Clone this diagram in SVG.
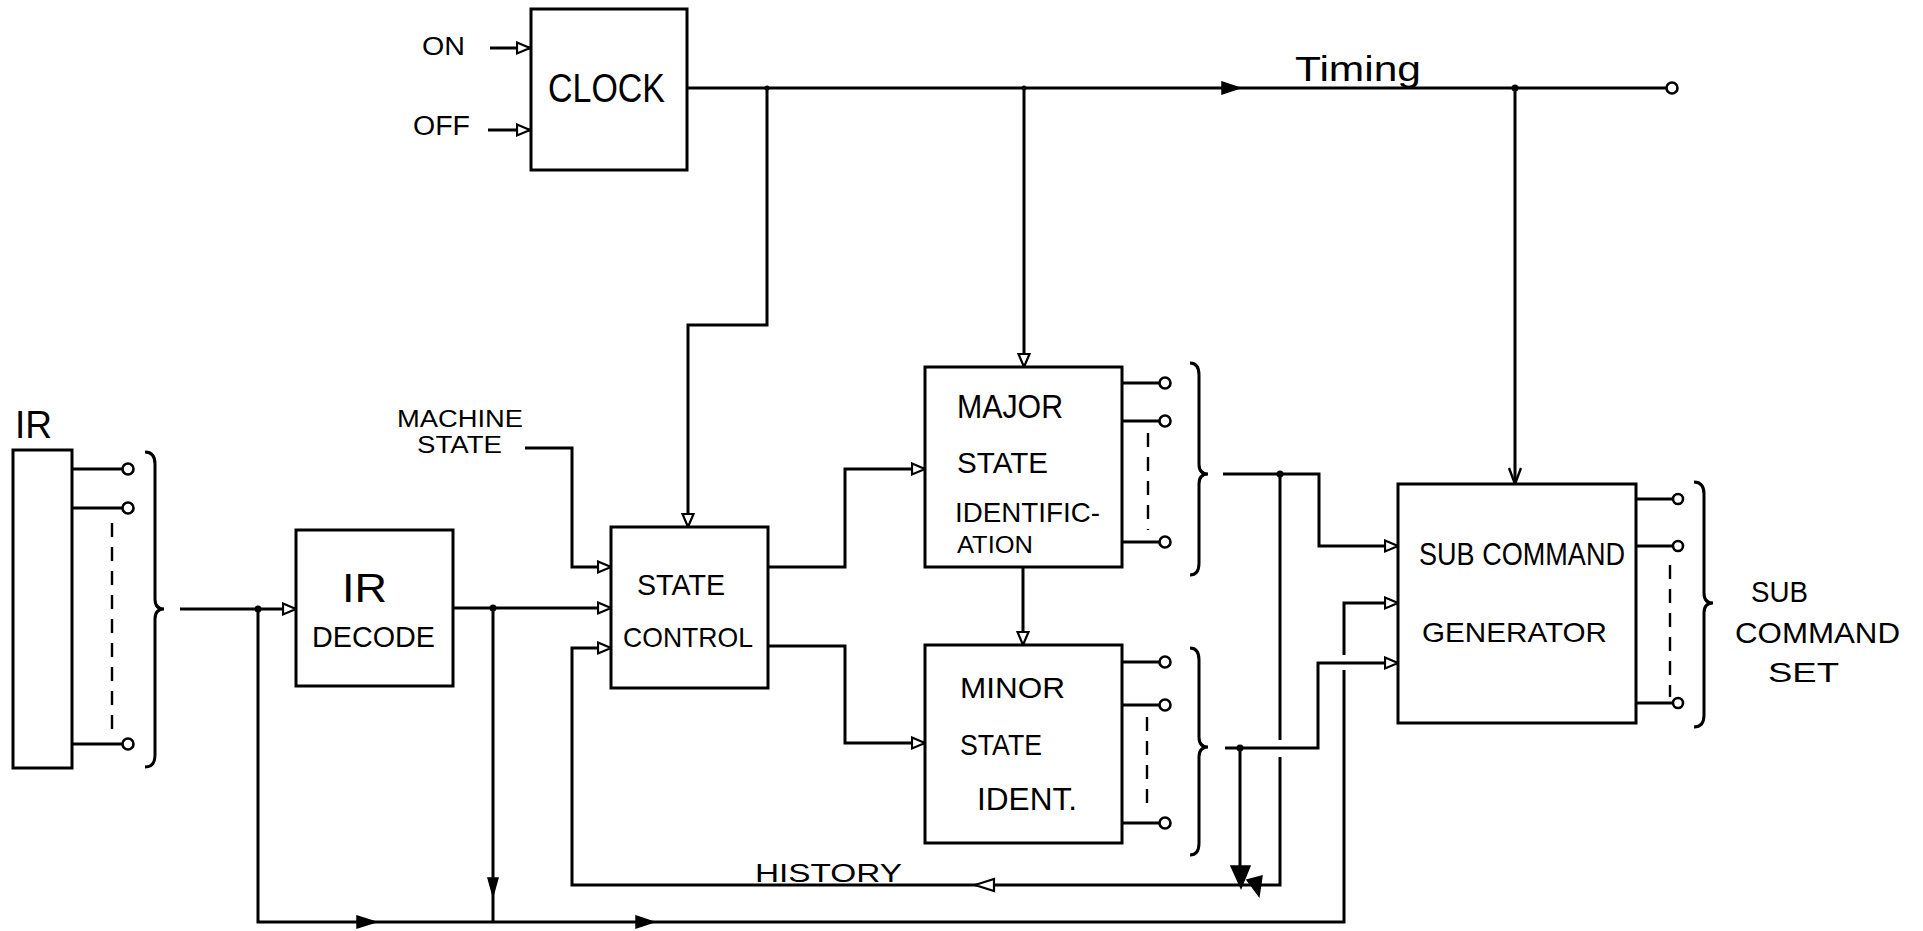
<svg xmlns="http://www.w3.org/2000/svg" width="1923" height="931" viewBox="0 0 1923 931">
<style>
.box{fill:#fff;stroke:#000;stroke-width:3}
.ln{fill:none;stroke:#000;stroke-width:3;stroke-linejoin:miter}
.dash{fill:none;stroke:#000;stroke-width:2.4;stroke-dasharray:14 10}
.term{fill:#fff;stroke:#000;stroke-width:2.6}
.dot{fill:#000}
.fa{fill:#000;stroke:#000;stroke-width:1.5}
.oa{fill:#fff;stroke:#000;stroke-width:2.2}
.t{font-family:"Liberation Sans","DejaVu Sans",sans-serif;fill:#000}
.arr{marker-end:url(#open)}
</style>
<defs>
<marker id="open" markerUnits="userSpaceOnUse" markerWidth="17" markerHeight="15" refX="14" refY="7" orient="auto">
<path d="M1,1.5 L14,7 L1,12.5 Z" fill="#fff" stroke="#000" stroke-width="2.2"/>
</marker>
<marker id="vee" markerUnits="userSpaceOnUse" markerWidth="20" markerHeight="16" refX="17" refY="7" orient="auto">
<path d="M1,1 L17,7 L1,13" fill="none" stroke="#000" stroke-width="2.4"/>
</marker>
</defs>
<rect width="1923" height="931" fill="#fff"/>

<g id="connectors">
<!-- ON / OFF -->
<path class="ln arr" d="M490,48 H530"/>
<path class="ln arr" d="M488,130 H530"/>
<!-- timing bus -->
<path class="ln" d="M687,88 H1666"/>
<polygon class="fa" points="1222,82 1240,88 1222,94"/>
<circle class="term" cx="1672" cy="88" r="5.5"/>
<path class="ln arr" d="M767,88 V325 H688 V527"/>
<path class="ln arr" d="M1024,88 V367"/>
<path class="ln" d="M1515,88 V484" marker-end="url(#vee)"/>
<circle class="dot" cx="767" cy="88" r="2.5"/>
<circle class="dot" cx="1024" cy="88" r="2.5"/>
<circle class="dot" cx="1515" cy="88" r="3.5"/>
<!-- IR outputs -->
<path class="ln" d="M72,469 H122 M72,508 H122 M72,744 H122"/>
<circle class="term" cx="128" cy="469" r="5.5"/>
<circle class="term" cx="128" cy="508" r="5.5"/>
<circle class="term" cx="128" cy="744" r="5.5"/>
<path class="dash" d="M112,523 V733"/>
<path class="ln" d="M145,452 Q155,452 155,464 L155,599 Q155,609 164,609 Q155,609 155,619 L155,755 Q155,767 145,767"/>
<path class="ln arr" d="M180,609 H296"/>
<circle class="dot" cx="258" cy="609" r="3.5"/>
<!-- bottom bus -->
<path class="ln arr" d="M258,609 V922 H1344 V670 M1344,655 V603 H1398"/>
<polygon class="fa" points="357,916 376,922 357,928"/>
<polygon class="fa" points="636,916 654,922 636,928"/>
<!-- IR decode to state control -->
<path class="ln arr" d="M453,608 H611"/>
<circle class="dot" cx="493" cy="608" r="3.5"/>
<path class="ln" d="M493,608 V922"/>
<polygon class="fa" points="488,878 498,878 493,896"/>
<!-- machine state -->
<path class="ln arr" d="M525,448 H572 V567 H611"/>
<!-- state control outputs -->
<path class="ln arr" d="M768,567 H845 V469 H925"/>
<path class="ln arr" d="M768,646 H845 V743 H925"/>
<!-- major to minor -->
<path class="ln arr" d="M1023,567 V645"/>
<!-- major outputs -->
<path class="ln" d="M1122,383 H1159 M1122,421 H1159 M1122,542 H1159"/>
<circle class="term" cx="1165" cy="383" r="5.5"/>
<circle class="term" cx="1165" cy="421" r="5.5"/>
<circle class="term" cx="1165" cy="542" r="5.5"/>
<path class="dash" d="M1148,433 V530"/>
<path class="ln" d="M1190,363 Q1199,363 1199,375 L1199,464 Q1199,474 1208,474 Q1199,474 1199,484 L1199,563 Q1199,575 1190,575"/>
<path class="ln arr" d="M1223,474 H1319 V546 H1398"/>
<circle class="dot" cx="1280" cy="474" r="3.5"/>
<!-- history -->
<path class="ln arr" d="M1280,474 V740 M1280,757 V885 H572 V648 H611"/>
<polygon class="oa" points="975,885 994,879 994,891"/>
<!-- minor outputs -->
<path class="ln" d="M1122,662 H1159 M1122,705 H1159 M1122,823 H1159"/>
<circle class="term" cx="1165" cy="662" r="5.5"/>
<circle class="term" cx="1165" cy="705" r="5.5"/>
<circle class="term" cx="1165" cy="823" r="5.5"/>
<path class="dash" d="M1147,717 V813"/>
<path class="ln" d="M1190,648 Q1199,648 1199,660 L1199,737 Q1199,747 1208,747 Q1199,747 1199,757 L1199,843 Q1199,855 1190,855"/>
<path class="ln arr" d="M1225,748 H1318 V663 H1398"/>
<circle class="dot" cx="1240" cy="748" r="3.5"/>
<path class="ln" d="M1240,748 V870"/>
<polygon class="fa" points="1231,866 1250,866 1241,888"/>
<polygon class="fa" points="1247,880 1262,876 1259,896"/>
<!-- sub command outputs -->
<path class="ln" d="M1636,499 H1673 M1636,546 H1673 M1636,703 H1673"/>
<circle class="term" cx="1678" cy="499" r="5"/>
<circle class="term" cx="1678" cy="546" r="5"/>
<circle class="term" cx="1678" cy="703" r="5"/>
<path class="dash" d="M1670,565 V697"/>
<path class="ln" d="M1694,482 Q1704,482 1704,494 L1704,593 Q1704,603 1713,603 Q1704,603 1704,613 L1704,715 Q1704,727 1694,727"/>
</g>

<g id="clock">
<rect class="box" x="531" y="9" width="156" height="161"/>
<text class="t" x="548" y="102" font-size="40" textLength="117" lengthAdjust="spacingAndGlyphs">CLOCK</text>
</g>
<g id="on-off-labels">
<text class="t" x="422" y="55" font-size="25" textLength="43" lengthAdjust="spacingAndGlyphs">ON</text>
<text class="t" x="413" y="135" font-size="27" textLength="57" lengthAdjust="spacingAndGlyphs">OFF</text>
</g>
<g id="timing-label">
<text class="t" x="1295" y="81" font-size="35" textLength="126" lengthAdjust="spacingAndGlyphs">Timing</text>
</g>
<g id="ir-register">
<rect class="box" x="13" y="450" width="59" height="318"/>
<text class="t" x="15" y="438" font-size="38" textLength="37" lengthAdjust="spacingAndGlyphs">IR</text>
</g>
<g id="ir-decode">
<rect class="box" x="296" y="530" width="157" height="156"/>
<text class="t" x="342" y="602" font-size="40" textLength="45" lengthAdjust="spacingAndGlyphs">IR</text>
<text class="t" x="312" y="647" font-size="30" textLength="123" lengthAdjust="spacingAndGlyphs">DECODE</text>
</g>
<g id="machine-state-label">
<text class="t" x="397" y="427" font-size="23" textLength="126" lengthAdjust="spacingAndGlyphs">MACHINE</text>
<text class="t" x="417" y="453" font-size="23" textLength="85" lengthAdjust="spacingAndGlyphs">STATE</text>
</g>
<g id="state-control">
<rect class="box" x="611" y="527" width="157" height="161"/>
<text class="t" x="637" y="595" font-size="30" textLength="88" lengthAdjust="spacingAndGlyphs">STATE</text>
<text class="t" x="623" y="647" font-size="28" textLength="130" lengthAdjust="spacingAndGlyphs">CONTROL</text>
</g>
<g id="major-state">
<rect class="box" x="925" y="367" width="197" height="200"/>
<text class="t" x="957" y="418" font-size="33" textLength="106" lengthAdjust="spacingAndGlyphs">MAJOR</text>
<text class="t" x="957" y="473" font-size="29" textLength="91" lengthAdjust="spacingAndGlyphs">STATE</text>
<text class="t" x="955" y="522" font-size="28" textLength="145" lengthAdjust="spacingAndGlyphs">IDENTIFIC-</text>
<text class="t" x="957" y="553" font-size="24" textLength="76" lengthAdjust="spacingAndGlyphs">ATION</text>
</g>
<g id="minor-state">
<rect class="box" x="925" y="645" width="197" height="198"/>
<text class="t" x="960" y="698" font-size="29" textLength="105" lengthAdjust="spacingAndGlyphs">MINOR</text>
<text class="t" x="960" y="755" font-size="29" textLength="82" lengthAdjust="spacingAndGlyphs">STATE</text>
<text class="t" x="977" y="810" font-size="31" textLength="100" lengthAdjust="spacingAndGlyphs">IDENT.</text>
</g>
<g id="history-label">
<text class="t" x="755" y="882" font-size="26" textLength="147" lengthAdjust="spacingAndGlyphs">HISTORY</text>
</g>
<g id="sub-command-generator">
<rect class="box" x="1398" y="484" width="238" height="239"/>
<text class="t" x="1419" y="565" font-size="32" textLength="206" lengthAdjust="spacingAndGlyphs">SUB COMMAND</text>
<text class="t" x="1422" y="642" font-size="28" textLength="185" lengthAdjust="spacingAndGlyphs">GENERATOR</text>
</g>
<g id="sub-command-set-label">
<text class="t" x="1751" y="602" font-size="29" textLength="57" lengthAdjust="spacingAndGlyphs">SUB</text>
<text class="t" x="1735" y="643" font-size="29" textLength="165" lengthAdjust="spacingAndGlyphs">COMMAND</text>
<text class="t" x="1768" y="682" font-size="28" textLength="71" lengthAdjust="spacingAndGlyphs">SET</text>
</g>
</svg>
